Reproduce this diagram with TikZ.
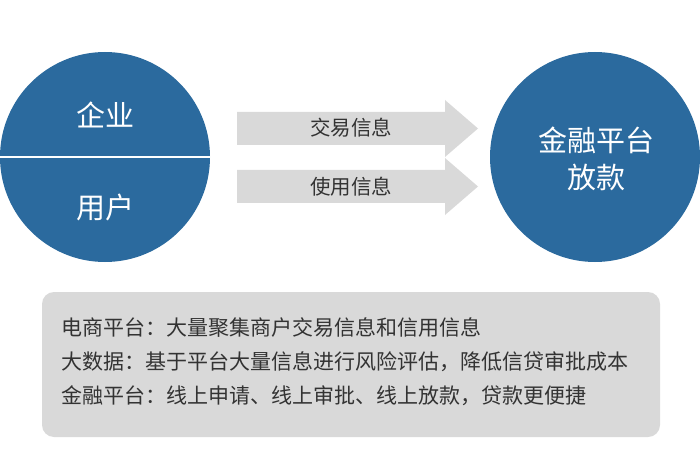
\documentclass[tikz,border=0pt]{standalone}
\usepackage{fontspec}
\newfontfamily\cjk{Noto Sans CJK SC}
\definecolor{cblue}{HTML}{2B6A9E}
\definecolor{cgray}{HTML}{D9D9D9}
\begin{document}
\begin{tikzpicture}[x=1pt,y=-1pt,font=\cjk,
  circ/.style={circle,fill=cblue,minimum size=210pt,inner sep=0pt},
  wlabel/.style={text=white,font=\cjk\fontsize{29}{37}\selectfont},
  alabel/.style={text=black!80,font=\cjk\fontsize{20.5}{24}\selectfont},
  bline/.style={text=black!80,font=\cjk\fontsize{21}{25}\selectfont,anchor=west}]
\useasboundingbox (0,0) rectangle (700,470);
\node[circ] (L) at (105,157) {};
\draw[white,line width=2pt] (0,157) -- (210,157);
\node[wlabel] (qy) at (105,115) {企业};
\node[wlabel] (yh) at (105,207) {用户};
\node[circ] (R) at (595,157) {};
\node[wlabel,align=center] (jr) at (596,159) {金融平台\\放款};
\fill[cgray] (237,112) -- (445,112) -- (445,100) -- (478,128.5) -- (445,157) -- (445,145) -- (237,145) -- cycle;
\fill[cgray] (237,170) -- (445,170) -- (445,158) -- (478,186.5) -- (445,215) -- (445,203) -- (237,203) -- cycle;
\node[alabel] (a1) at (351,128) {交易信息};
\node[alabel] (a2) at (351,187) {使用信息};
\fill[cgray,rounded corners=12pt] (42,292) rectangle (660,437);
\node[bline] (b1) at (58,328) {电商平台：大量聚集商户交易信息和信用信息};
\node[bline] (b2) at (58,362) {大数据：基于平台大量信息进行风险评估，降低信贷审批成本};
\node[bline] (b3) at (58,396) {金融平台：线上申请、线上审批、线上放款，贷款更便捷};
\end{tikzpicture}
\end{document}
